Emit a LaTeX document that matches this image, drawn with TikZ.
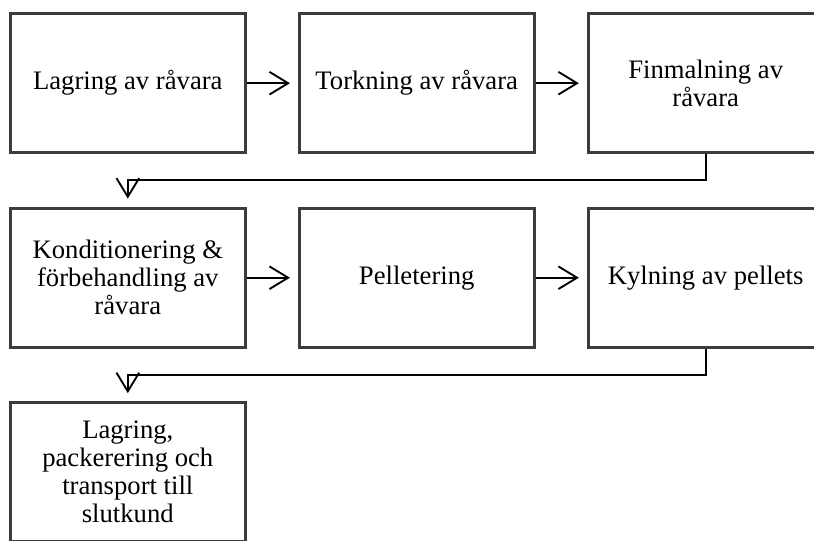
\documentclass[tikz,border=0pt]{standalone}
\usepackage{fontspec}
\setmainfont{Liberation Serif}
\usetikzlibrary{positioning,arrows.meta}
\definecolor{boxline}{HTML}{3C3C3C}

\begin{document}
\begin{tikzpicture}[x=0.75pt, y=-0.75pt, node distance=39.2pt and 38.5pt,
        flow/.style={draw=black, line width=1.4pt,
          -{Straight Barb[length=14pt,width=17pt,line width=1.4pt]},
          shorten >=6pt}]
      \tikzstyle{stepbox} = [draw=boxline, line width=2.2pt, fill=white,
        minimum width=176pt, minimum height=104.5pt, inner sep=0pt,
        align=center, font=\fontsize{20}{21}\selectfont]
      \path[use as bounding box, clip] (0,0) rectangle (814,541);
      \node (store) [stepbox] at (127.8,83.2) {Lagring av råvara};
      \node (dry) [stepbox, right=of store] {Torkning av råvara};
      \node (mill) [stepbox, right=of dry] {Finmalning av\\råvara};
      \node (cond) [stepbox, below=of store] {Konditionering \&\\förbehandling av\\råvara};
      \node (pellet) [stepbox, right=of cond] {Pelletering};
      \node (cool) [stepbox, right=of pellet] {Kylning av pellets};
      \node (ship) [stepbox, below=of cond] {Lagring,\\packerering och\\transport till\\slutkund};
      \draw[flow] (store) -- (dry);
      \draw[flow] (dry) -- (mill);
      \draw[flow] (cond) -- (pellet);
      \draw[flow] (pellet) -- (cool);
      \draw[flow] (mill.south) -- ++(0,26) -| (cond.north);
      \draw[flow] (cool.south) -- ++(0,26) -| (ship.north);
    \end{tikzpicture}
\end{document}
